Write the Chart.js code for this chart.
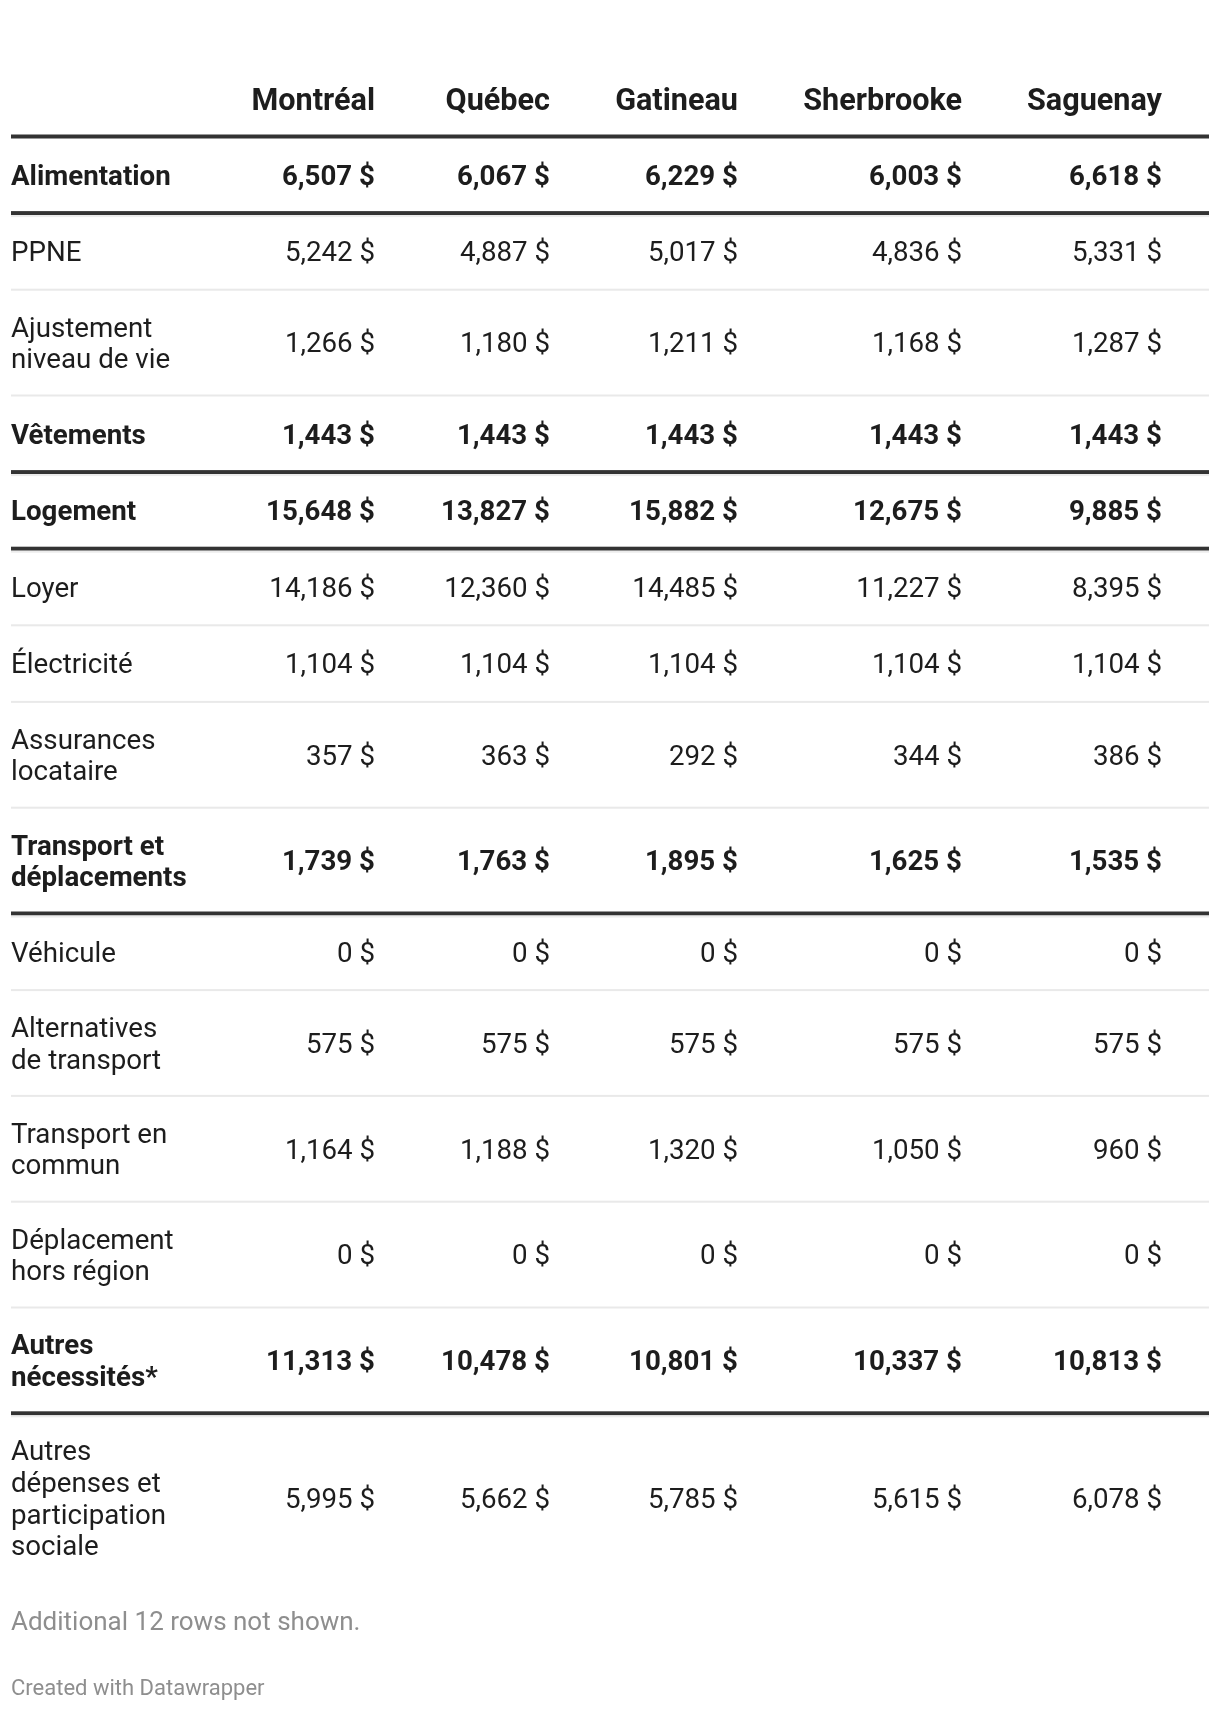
<!DOCTYPE html>
<html lang="fr">
<head>
<meta charset="utf-8">
<title>Dépenses par ville</title>
<script src="https://cdn.jsdelivr.net/npm/chart.js@4.4.1/dist/chart.umd.min.js"></script>
<style>
	html, body { margin: 0; padding: 0; background: #fff; }
	#wrap { position: relative; width: 1220px; height: 1712px; overflow: hidden; }
	#wrap canvas { position: absolute; left: 0; top: 0; }
	.foot { position: absolute; left: 11px; font-family: Roboto, sans-serif; white-space: nowrap; }
	#notes { top: 1607px; font-size: 26px; line-height: 28px; color: #8e8e8e; }
	#credit { top: 1675px; font-size: 22px; line-height: 26px; color: #8e8e8e; }
</style>
</head>
<body>
<div id="wrap">
	<canvas id="table" width="1220" height="1712"></canvas>
	<div class="foot" id="notes">Additional 12 rows not shown.</div>
	<div class="foot" id="credit">Created with Datawrapper</div>
</div>
<script>
// data
var cities = [ 'Montréal', 'Québec', 'Gatineau', 'Sherbrooke', 'Saguenay' ];
var rowLabels = [
	[ 'Alimentation' ],
	[ 'PPNE' ],
	[ 'Ajustement', 'niveau de vie' ],
	[ 'Vêtements' ],
	[ 'Logement' ],
	[ 'Loyer' ],
	[ 'Électricité' ],
	[ 'Assurances', 'locataire' ],
	[ 'Transport et', 'déplacements' ],
	[ 'Véhicule' ],
	[ 'Alternatives', 'de transport' ],
	[ 'Transport en', 'commun' ],
	[ 'Déplacement', 'hors région' ],
	[ 'Autres', 'nécessités*' ],
	[ 'Autres', 'dépenses et', 'participation', 'sociale' ]
];
var rowBold = [ true, false, false, true, true, false, false, false, true, false, false, false, false, true, false ];

var montreal   = [ 6507, 5242, 1266, 1443, 15648, 14186, 1104, 357, 1739, 0, 575, 1164, 0, 11313, 5995 ];
var quebec     = [ 6067, 4887, 1180, 1443, 13827, 12360, 1104, 363, 1763, 0, 575, 1188, 0, 10478, 5662 ];
var gatineau   = [ 6229, 5017, 1211, 1443, 15882, 14485, 1104, 292, 1895, 0, 575, 1320, 0, 10801, 5785 ];
var sherbrooke = [ 6003, 4836, 1168, 1443, 12675, 11227, 1104, 344, 1625, 0, 575, 1050, 0, 10337, 5615 ];
var saguenay   = [ 6618, 5331, 1287, 1443, 9885, 8395, 1104, 386, 1535, 0, 575, 960, 0, 10813, 6078 ];
var series = [ montreal, quebec, gatineau, sherbrooke, saguenay ];

// layout (scale units = canvas pixels)
var W = 1220, H = 1712;
var tableLeft = 11, tableRight = 1209;
var colRight = [ 375, 550, 738, 962, 1162 ];
var headerY = 99, tableTop = 136.5;
var pad = 21.2, lineH = 31.7, minRowH = 76.6;
var bodySize = 27.7, headSize = 30.6;
var ink = '#1d1d1d';

// row boxes from the number of text lines
var rowMid = [], rowBottom = [];
var yy = tableTop;
rowLabels.forEach( function ( lines ) {
	var h = Math.max( minRowH, 2 * pad + lines.length * lineH );
	rowMid.push( yy + h / 2 );
	yy += h;
	rowBottom.push( yy );
} );

function fmt( v ) {
	return v.toLocaleString( 'en-US' ) + ' $';
}

function font( bold, size ) {
	return ( bold ? '700 ' : '400 ' ) + size + 'px Roboto, sans-serif';
}

var tablePlugin = {
	id: 'tablePlugin',
	beforeDatasetsDraw: function ( chart ) {
		var ctx = chart.ctx, xs = chart.scales.x, ys = chart.scales.y;
		var x0 = xs.getPixelForValue( tableLeft ), x1 = xs.getPixelForValue( tableRight );
		ctx.save();
		// header rule
		ctx.fillStyle = '#333333';
		ctx.fillRect( x0, ys.getPixelForValue( tableTop ) - 2, x1 - x0, 4 );
		for ( var i = 0; i < rowBottom.length - 1; i++ ) {
			var py = ys.getPixelForValue( rowBottom[i] );
			if ( rowBold[i] ) {
				ctx.fillStyle = '#333333';
				ctx.fillRect( x0, py - 2, x1 - x0, 4 );
				ctx.fillStyle = '#ececec';
				ctx.fillRect( x0, py + 2, x1 - x0, 2 );
			} else {
				ctx.fillStyle = '#e9e9e9';
				ctx.fillRect( x0, py - 1, x1 - x0, 2 );
			}
		}
		ctx.restore();
	},
	afterDatasetsDraw: function ( chart ) {
		var ctx = chart.ctx, xs = chart.scales.x, ys = chart.scales.y;
		ctx.save();
		ctx.fillStyle = ink;
		ctx.textBaseline = 'alphabetic';

		// column headers
		ctx.font = font( true, headSize );
		ctx.textAlign = 'right';
		cities.forEach( function ( c, j ) {
			ctx.fillText( c, xs.getPixelForValue( colRight[j] ), ys.getPixelForValue( headerY ) + 0.355 * headSize );
		} );

		// row labels
		ctx.textAlign = 'left';
		rowLabels.forEach( function ( lines, i ) {
			ctx.font = font( rowBold[i], bodySize );
			lines.forEach( function ( t, k ) {
				var cy = rowMid[i] + ( k - ( lines.length - 1 ) / 2 ) * lineH;
				ctx.fillText( t, xs.getPixelForValue( tableLeft ), ys.getPixelForValue( cy ) + 0.355 * bodySize );
			} );
		} );

		// values, placed by the dataset points
		ctx.textAlign = 'right';
		chart.data.datasets.forEach( function ( ds, j ) {
			chart.getDatasetMeta( j ).data.forEach( function ( pt, i ) {
				ctx.font = font( rowBold[i], bodySize );
				ctx.fillText( fmt( series[j][i] ), pt.x, pt.y + 0.355 * bodySize );
			} );
		} );
		ctx.restore();
	}
};

function draw() {
	var ctx = document.getElementById( 'table' ).getContext( '2d' );
	new Chart( ctx, {
		type: 'scatter',
		data: {
			datasets: series.map( function ( vals, j ) {
				return {
					label: cities[j],
					data: vals.map( function ( v, i ) {
						return { x: colRight[j], y: rowMid[i] };
					} ),
					pointRadius: 0,
					pointHoverRadius: 0
				};
			} )
		},
		options: {
			responsive: false,
			animation: false,
			devicePixelRatio: 1,
			layout: { padding: 0 },
			events: [],
			plugins: {
				legend: { display: false },
				tooltip: { enabled: false }
			},
			scales: {
				x: { type: 'linear', min: 0, max: W, display: false },
				y: { type: 'linear', min: 0, max: H, reverse: true, display: false }
			}
		},
		plugins: [ tablePlugin ]
	} );
}

if ( document.fonts && document.fonts.load ) {
	Promise.all( [
		document.fonts.load( '400 27px Roboto' ),
		document.fonts.load( '700 30px Roboto' )
	] ).then( draw, draw );
} else {
	draw();
}
</script>
</body>
</html>
